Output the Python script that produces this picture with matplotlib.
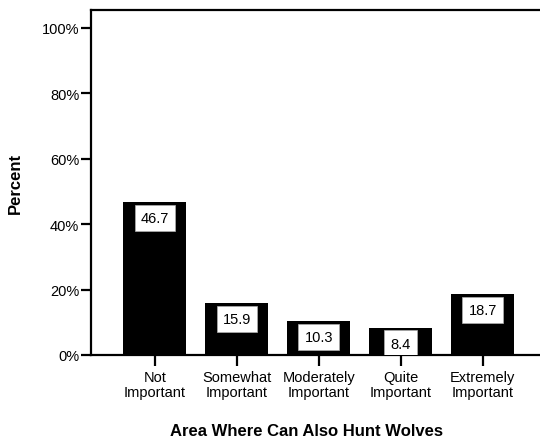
import matplotlib
matplotlib.use("Agg")
from matplotlib import pyplot as plt
from matplotlib.ticker import FuncFormatter

plt.rcParams['font.family'] = ['Liberation Sans', 'DejaVu Sans']

categories = ["Not\nImportant", "Somewhat\nImportant", "Moderately\nImportant",
              "Quite\nImportant", "Extremely\nImportant"]
percents = [46.7, 15.9, 10.3, 8.4, 18.7]
y_ticks = [0, 20, 40, 60, 80, 100]

fig = plt.figure(figsize=(5.4, 4.39), dpi=100)
ax = fig.add_axes([91 / 540, 83 / 439, 449 / 540, 345 / 439])

x = range(len(categories))
ax.bar(x, percents, width=0.77, color='black', edgecolor='black', linewidth=0)

# value labels in white boxes just under the bar tops
for xi, v in zip(x, percents):
    ax.annotate("%.1f" % v, (xi, v), xytext=(0, -16), textcoords='offset pixels',
                ha='center', va='center', fontsize=10.5, color='black',
                bbox=dict(boxstyle='square,pad=0.42', facecolor='white',
                          edgecolor='#b0b0b0', linewidth=0.5),
                clip_on=True)

ax.set_xlim(-0.78, 4.70)
ax.set_ylim(0, 105.5)
ax.set_yticks(y_ticks)
ax.yaxis.set_major_formatter(FuncFormatter(lambda v, p: "%d%%" % v))
ax.set_xticks(list(x))
ax.set_xticklabels(categories, fontsize=10.5, linespacing=1.05)
ax.tick_params(axis='y', labelsize=10.5, length=7, width=1.6, pad=1.5)
ax.tick_params(axis='x', length=8, width=1.6, pad=3)

for side in ['left', 'bottom', 'top']:
    ax.spines[side].set_linewidth(1.6)
ax.spines['right'].set_visible(False)

ax.set_ylabel("Percent", fontsize=12, fontweight='bold', va='center')
ax.yaxis.set_label_coords(-0.169, 0.5)
ax.set_xlabel("Area Where Can Also Hunt Wolves", fontsize=12, fontweight='bold', va='center')
ax.xaxis.set_label_coords(0.479, -0.218)

fig.savefig("out.png", dpi=100)
